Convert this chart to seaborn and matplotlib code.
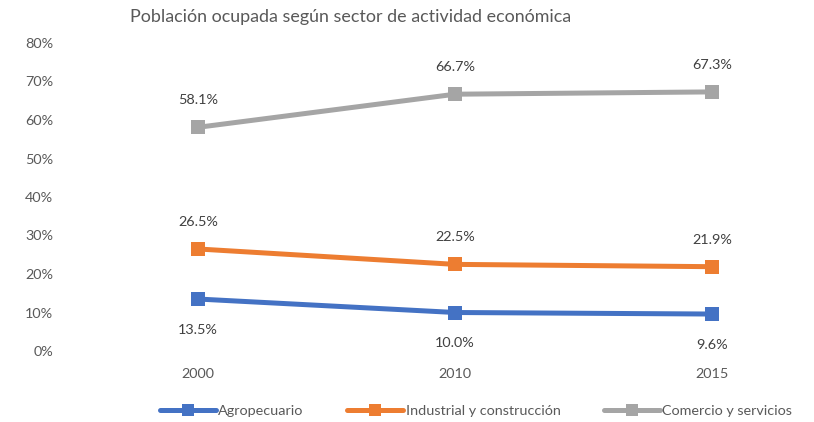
import numpy as np
import pandas as pd
import matplotlib
matplotlib.use('Agg')
import matplotlib.pyplot as plt
import seaborn as sns

# data
years = ['2000', '2010', '2015']
agropecuario = [13.5, 10.0, 9.6]
industrial = [26.5, 22.5, 21.9]
comercio = [58.1, 66.7, 67.3]
series_names = ['Agropecuario', 'Industrial y construcción', 'Comercio y servicios']
colors = ['#4472C4', '#ED7D31', '#A5A5A5']

df = pd.DataFrame({
    'Año': years * 3,
    'Valor': agropecuario + industrial + comercio,
    'Sector': [s for s in series_names for _ in years],
})

sns.set_theme(style='white')
plt.rcParams['font.family'] = ['Lato', 'DejaVu Sans']
text_col = '#595959'
fs = 10.4

fig = plt.figure(figsize=(8.14, 4.22), dpi=100)
ax = fig.add_axes([70 / 814, 71 / 422, 730 / 814, 308 / 422])

sns.lineplot(data=df, x='Año', y='Valor', hue='Sector', palette=colors,
             marker='s', markersize=10, linewidth=3.6, markeredgewidth=0,
             sort=False, ax=ax)

# data labels: gray/orange above the points, blue below
above = {'Agropecuario': False, 'Industrial y construcción': True, 'Comercio y servicios': True}
for name, vals in zip(series_names, [agropecuario, industrial, comercio]):
    for i, v in enumerate(vals):
        dy = 19.5 if above[name] else -22
        ax.annotate(f'{v:.1f}%', (i, v), xytext=(0, dy),
                    textcoords='offset points', ha='center', va='center',
                    fontsize=fs, color='#404040')

ax.set_ylim(0, 80)
ax.set_xlim(-0.498, 2.342)
ax.set_yticks(range(0, 81, 10))
ax.set_yticklabels([f'{t}%' for t in range(0, 81, 10)])
ax.tick_params(axis='both', length=0, labelsize=fs, labelcolor=text_col, pad=12)
ax.set_xlabel('')
ax.set_ylabel('')
for s in ax.spines.values():
    s.set_visible(False)

fig.text(130 / 814, 1 - 17 / 422, 'Población ocupada según sector de actividad económica',
         fontsize=12.9, color=text_col, va='center', ha='left')

handles, labels = ax.get_legend_handles_labels()
for h in handles:
    h.set_markersize(8)
ax.legend(handles, labels, loc='center', bbox_to_anchor=(476 / 814, 11 / 422),
          bbox_transform=fig.transFigure, ncol=3, frameon=False, fontsize=fs,
          handlelength=3.9, columnspacing=3.0, handletextpad=0.15,
          labelcolor=text_col, borderpad=0)

fig.savefig('out.png', dpi=100)
